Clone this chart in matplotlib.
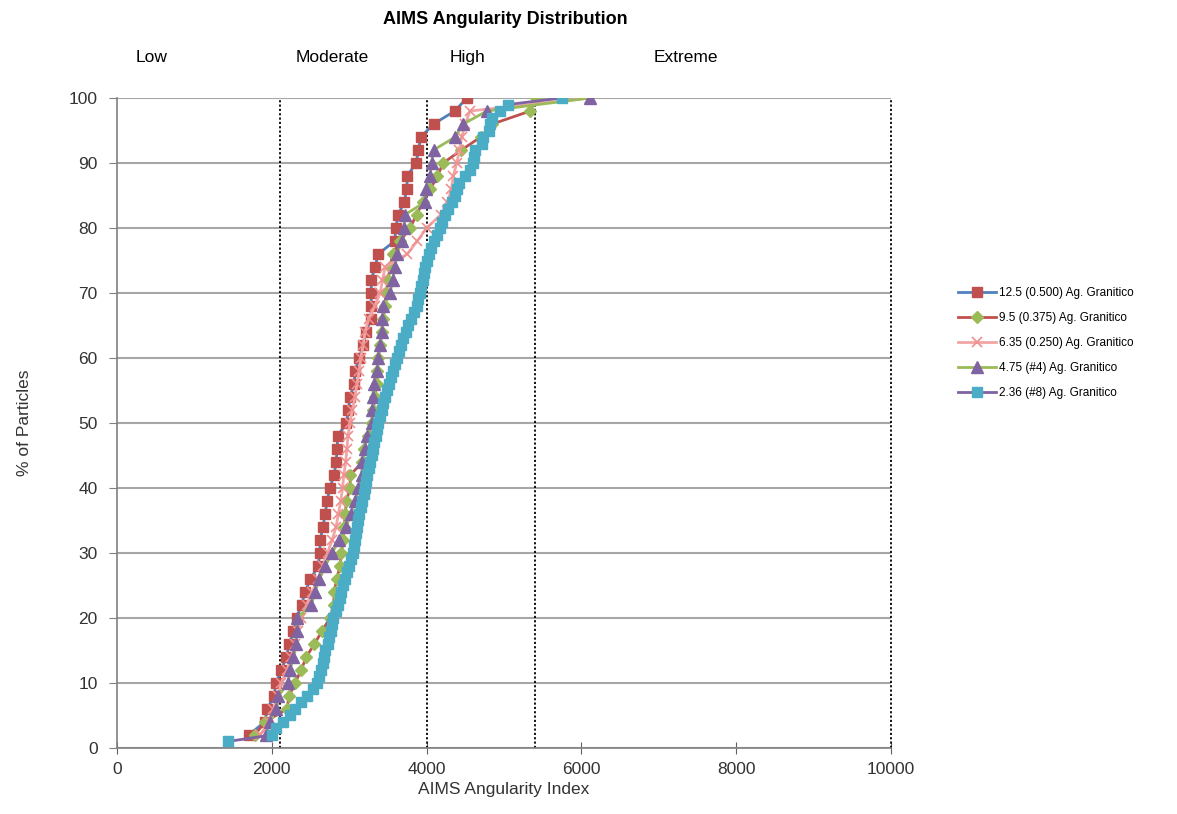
import matplotlib
matplotlib.use("Agg")
import matplotlib.pyplot as plt

plt.rcParams["font.family"] = ["Liberation Sans", "DejaVu Sans"]

# cumulative % of particles for the series read every 2 %
pct_2 = [2, 4, 6, 8, 10, 12, 14, 16, 18, 20, 22, 24, 26, 28, 30, 32, 34, 36, 38, 40,
         42, 44, 46, 48, 50, 52, 54, 56, 58, 60, 62, 64, 66, 68, 70, 72, 74, 76, 78, 80,
         82, 84, 86, 88, 90, 92, 94, 96, 98, 100]

idx_125 = [1700, 1910, 1940, 2030, 2055, 2120, 2190, 2225, 2280, 2320, 2385, 2430, 2500, 2600,
           2620, 2625, 2660, 2690, 2715, 2750, 2805, 2830, 2845, 2850, 2965, 2990, 3010, 3065,
           3075, 3130, 3180, 3215, 3280, 3285, 3285, 3285, 3335, 3375, 3590, 3600, 3635, 3710,
           3745, 3750, 3865, 3895, 3925, 4090, 4365, 4520]

idx_95 = [1780, 1910, 2195, 2225, 2300, 2380, 2445, 2550, 2650, 2750, 2800, 2805, 2840, 2880,
          2900, 2920, 2935, 2950, 2965, 3010, 3015, 3170, 3185, 3240, 3290, 3310, 3330, 3355,
          3365, 3375, 3400, 3420, 3440, 3460, 3480, 3500, 3530, 3560, 3660, 3785, 3870, 3950,
          4050, 4140, 4215, 4450, 4700, 4850, 5340, 5410]

idx_635 = [1850, 1960, 2020, 2080, 2120, 2200, 2250, 2300, 2340, 2380, 2450, 2520, 2600, 2660,
           2720, 2780, 2830, 2860, 2890, 2915, 2930, 2955, 2970, 2985, 3010, 3040, 3075, 3100,
           3130, 3150, 3180, 3205, 3250, 3330, 3400, 3430, 3465, 3750, 3880, 4000, 4180, 4270,
           4320, 4345, 4390, 4425, 4455, 4500, 4560, 6110]

idx_475 = [1930, 1975, 2060, 2085, 2210, 2235, 2280, 2315, 2320, 2330, 2510, 2560, 2610, 2690,
           2780, 2870, 2960, 3020, 3075, 3120, 3160, 3170, 3200, 3230, 3290, 3300, 3305, 3315,
           3355, 3375, 3400, 3420, 3430, 3440, 3530, 3560, 3590, 3615, 3680, 3710, 3715, 3980,
           3995, 4045, 4065, 4090, 4370, 4475, 4780, 6110]

# finest fraction, read every 1 %
pct_1 = list(range(1, 101))
idx_236 = [1430, 2000, 2060, 2150, 2235, 2300, 2380, 2450, 2530, 2580,
           2610, 2640, 2660, 2675, 2690, 2720, 2740, 2760, 2780, 2795,
           2830, 2860, 2880, 2900, 2925, 2950, 2975, 3000, 3020, 3045,
           3060, 3075, 3090, 3100, 3110, 3130, 3150, 3170, 3190, 3205,
           3220, 3235, 3250, 3270, 3290, 3305, 3320, 3340, 3360, 3375,
           3395, 3420, 3440, 3460, 3485, 3510, 3535, 3560, 3590, 3615,
           3640, 3670, 3700, 3730, 3765, 3800, 3840, 3870, 3890, 3915,
           3930, 3950, 3970, 3985, 4005, 4030, 4060, 4090, 4130, 4170,
           4200, 4240, 4280, 4330, 4370, 4390, 4420, 4490, 4560, 4600,
           4610, 4625, 4710, 4730, 4800, 4820, 4840, 4950, 5055, 5750]

zone_names = ["Low", "Moderate", "High", "Extreme"]
zone_label_x = [450, 2780, 4530, 7350]
zone_bounds = [2100, 4000, 5400, 10000]

fig = plt.figure(figsize=(11.77, 8.14), dpi=100)
ax = fig.add_axes([0.0994, 0.0811, 0.6576, 0.7985])

for b in zone_bounds:
    ax.axvline(b, color="black", linestyle=(0, (1.2, 1.2)), linewidth=1.3, zorder=1,
               clip_on=False)

ax.plot(idx_125, pct_2, color="#4F81BD", lw=2, marker="s", ms=7.5,
        mfc="#C0504D", mec="#C0504D", label="12.5 (0.500) Ag. Granitico", zorder=3)
ax.plot(idx_95, pct_2, color="#C0504D", lw=2, marker="D", ms=6,
        mfc="#9BBB59", mec="#9BBB59", label="9.5 (0.375) Ag. Granitico", zorder=3)
ax.plot(idx_635, pct_2, color="#F2A5A5", lw=2, marker="x", ms=7, mew=1.2,
        mfc="#F08F8F", mec="#F08F8F", label="6.35 (0.250) Ag. Granitico", zorder=3)
ax.plot(idx_475, pct_2, color="#9BBB59", lw=2, marker="^", ms=8,
        mfc="#8064A2", mec="#8064A2", label="4.75 (#4) Ag. Granitico", zorder=3)
ax.plot(idx_236, pct_1, color="#8064A2", lw=2, marker="s", ms=7.5,
        mfc="#4BACC6", mec="#4BACC6", label="2.36 (#8) Ag. Granitico", zorder=3)

ax.set_xlim(0, 10000)
ax.set_ylim(0, 100)
ax.set_xticks([0, 2000, 4000, 6000, 8000, 10000])
ax.set_yticks(range(0, 101, 10))
ax.yaxis.grid(True, color="#A6A6A6", linewidth=1.5)
ax.set_axisbelow(True)
for s in ["top", "right"]:
    ax.spines[s].set_visible(False)
for s in ["left", "bottom"]:
    ax.spines[s].set_color("#808080")
    ax.spines[s].set_linewidth(1.2)
ax.tick_params(axis="x", direction="inout", length=8, color="#606060", labelsize=12.5,
               labelcolor="#333333", pad=6)
ax.tick_params(axis="y", direction="out", length=6, color="#808080", labelsize=12.5,
               labelcolor="#333333", pad=8)

ax.set_xlabel("AIMS Angularity Index", fontsize=12.5, color="#333333", labelpad=4)
ax.set_ylabel("% of Particles", fontsize=12.5, color="#333333", labelpad=26)
fig.text(0.429, 1 - 20 / 814, "AIMS Angularity Distribution", ha="center", va="center",
         fontsize=13, fontweight="bold")

for name, xz in zip(zone_names, zone_label_x):
    ax.text(xz, 106.3, name, ha="center", va="center", fontsize=12.5, clip_on=False)

fig.legend(loc="upper left", bbox_to_anchor=(0.805, 0.66), frameon=False, fontsize=8.5,
           handlelength=3.2, labelspacing=1.1, handletextpad=0.3)

fig.savefig("out.png", dpi=100)
